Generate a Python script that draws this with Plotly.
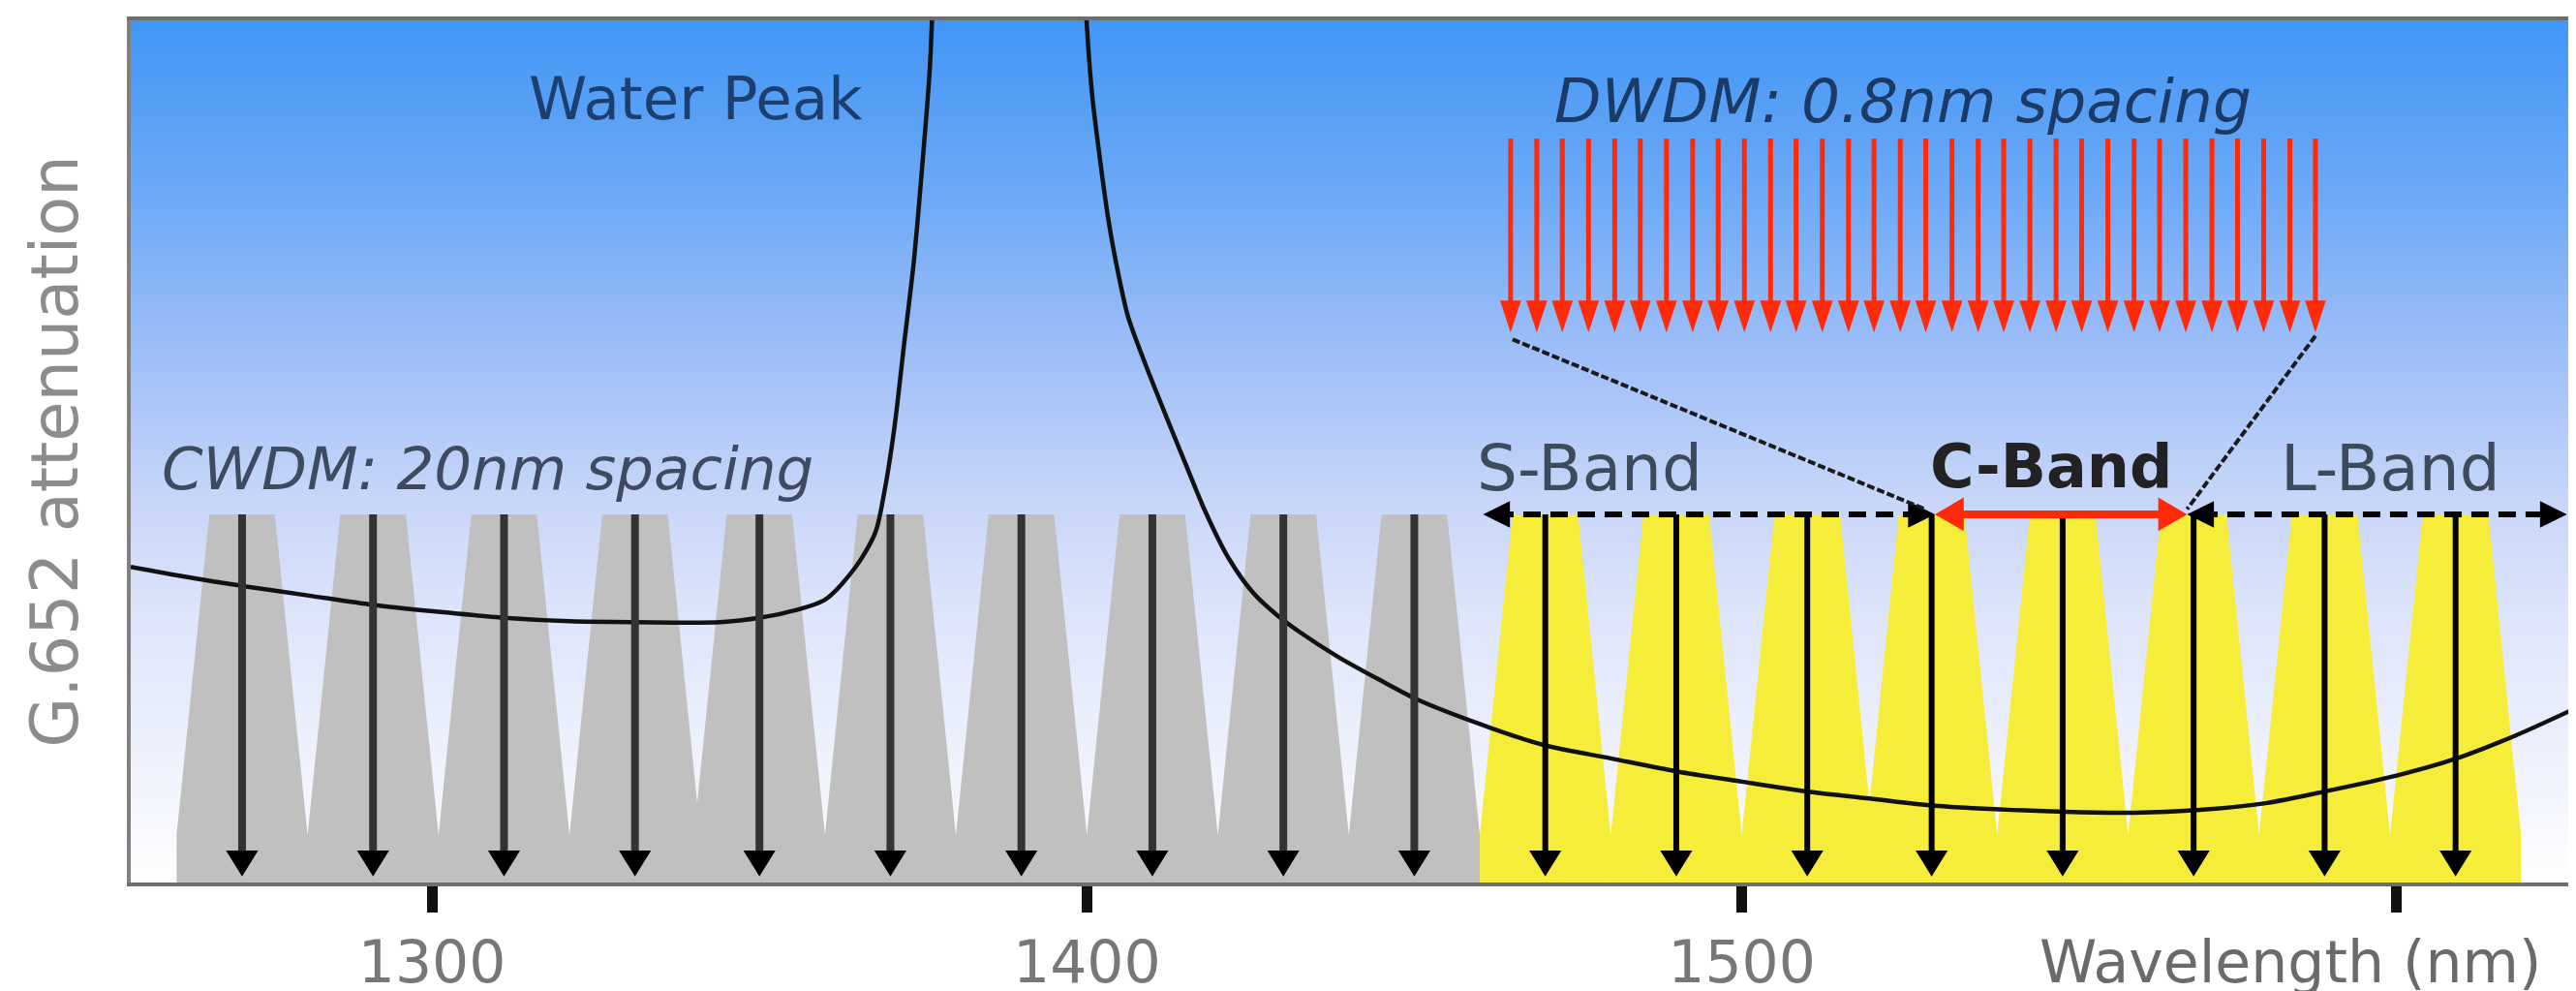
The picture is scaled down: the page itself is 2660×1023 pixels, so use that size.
import plotly.graph_objects as go

# ------------------------------------------------------------------ data
# G.652 attenuation curve (arbitrary units)
curve_left_nm = [1254, 1262, 1271, 1281, 1291, 1301, 1311, 1321, 1331, 1344, 1350,
                 1354, 1360, 1364.7, 1367.7, 1369.1, 1370.6, 1372.1, 1373.6, 1375.0,
                 1376.0, 1376.5]
curve_left_att = [36.6, 35.5, 34.4, 33.3, 32.2, 31.4, 30.7, 30.3, 30.2, 30.2, 30.7,
                  31.3, 32.8, 36.6, 40.6, 45.4, 52.7, 62.5, 72.2, 84.4,
                  94.2, 103]
curve_right_nm = [1399.8, 1400.0, 1400.8, 1402.0, 1403.3, 1404.8, 1406.3, 1409.2,
                  1412.2, 1415.1, 1418.1, 1421.5, 1425.5, 1428.9, 1432.4, 1438.3,
                  1444.7, 1450.5, 1461.4, 1470, 1480, 1490, 1500, 1509.6, 1520,
                  1529.5, 1549.4, 1560, 1569.5, 1580, 1589.3, 1600, 1608.8, 1618, 1627]
curve_right_att = [103, 99.4, 91.4, 83.9, 76.8, 70.6, 65.6, 59.6,
                   53.9, 48.5, 43.0, 37.8, 33.5, 31.1, 29.1, 26.2,
                   23.5, 21.2, 18.0, 15.9, 14.4, 12.9, 11.7, 10.6, 9.7,
                   8.9, 8.2, 8.1, 8.4, 9.2, 10.6, 12.4, 14.3, 17.0, 20.1]

# CWDM channels (nm) – grey part and yellow (S/C/L) part
cwdm_grey_nm = [1271, 1291, 1311, 1331, 1350, 1370, 1390, 1410, 1430, 1450]
cwdm_yellow_nm = [1470, 1490, 1510, 1529, 1549, 1569, 1589, 1609]

# magnified DWDM comb (positions on the drawing)
dwdm_pos_nm = [1464.7, 1468.7, 1472.6, 1476.6, 1480.6, 1484.5, 1488.5, 1492.5,
               1496.4, 1500.4, 1504.4, 1508.3, 1512.3, 1516.3, 1520.2, 1524.2,
               1528.1, 1532.1, 1536.1, 1540.0, 1544.0, 1548.0, 1551.9, 1555.9,
               1559.9, 1563.8, 1567.8, 1571.8, 1575.7, 1579.7, 1583.7, 1587.6]

# band limits (nm)
s_band = [1460.5, 1529.5]
c_band = [1529.5, 1568.0]
l_band = [1568.0, 1626.0]

x_tick_vals = [1300, 1400, 1500, 1600]
x_tick_text = ["1300", "1400", "1500", ""]

# ------------------------------------------------------------------ style constants
X_RANGE = [1254, 1626.5]
Y_RANGE = [0, 100]
FONT = "DejaVu Sans"
CH_TOP = 42.7          # top of channel trapezoids / arrow start
CH_JOIN = 5.5          # level where neighbouring channels touch
CH_HALF_TOP = 5.0
CH_HALF_BOTTOM = 10.0
ARROW_TIP = 0.7
DW_TOP, DW_TIP = 86.3, 63.8
BAND_Y = 42.7

fig = go.Figure()

# background gradient
fig.add_trace(go.Scatter(
    x=[X_RANGE[0] - 5, X_RANGE[1] + 5, X_RANGE[1] + 5, X_RANGE[0] - 5, X_RANGE[0] - 5],
    y=[Y_RANGE[0], Y_RANGE[0], Y_RANGE[1], Y_RANGE[1], Y_RANGE[0]],
    mode="lines", line=dict(width=0), fill="toself",
    fillgradient=dict(type="vertical", colorscale=[
        [0.0, "#ffffff"], [0.1, "#f3f5fd"], [0.3, "#dfe6fb"], [0.45, "#c6d5f9"],
        [0.6, "#a2c0f8"], [0.8, "#6ca9f7"], [1.0, "#4196f6"]]),
    hoverinfo="skip", showlegend=False))


def trapezoids(centres):
    xs, ys = [], []
    for c in centres:
        xs += [c - CH_HALF_TOP, c + CH_HALF_TOP, c + CH_HALF_BOTTOM, c + CH_HALF_BOTTOM,
               c - CH_HALF_BOTTOM, c - CH_HALF_BOTTOM, c - CH_HALF_TOP, None]
        ys += [CH_TOP, CH_TOP, CH_JOIN, 0, 0, CH_JOIN, CH_TOP, None]
    return xs, ys


for centres, col in [(cwdm_grey_nm, "#c0c0c0"), (cwdm_yellow_nm, "#f5ed3a")]:
    tx, ty = trapezoids(centres)
    fig.add_trace(go.Scatter(x=tx, y=ty, mode="lines", line=dict(width=0),
                             fill="toself", fillcolor=col, hoverinfo="skip",
                             showlegend=False))

# attenuation curve
fig.add_trace(go.Scatter(
    x=curve_left_nm + [None] + curve_right_nm,
    y=curve_left_att + [None] + curve_right_att,
    mode="lines", line=dict(color="#111111", width=4.5, shape="spline", smoothing=0.8),
    connectgaps=False, hoverinfo="skip", showlegend=False))


def down_arrows(xs, y_top, y_tip, head_w, head_l):
    sx, sy, hx, hy = [], [], [], []
    for x in xs:
        sx += [x, x, None]
        sy += [y_top, y_tip + head_l * 0.5, None]
        hx += [x - head_w / 2, x + head_w / 2, x, x - head_w / 2, None]
        hy += [y_tip + head_l, y_tip + head_l, y_tip, y_tip + head_l, None]
    return sx, sy, hx, hy


def add_arrows(xs, y_top, y_tip, head_w, head_l, shaft_col, head_col, width):
    sx, sy, hx, hy = down_arrows(xs, y_top, y_tip, head_w, head_l)
    fig.add_trace(go.Scatter(x=sx, y=sy, mode="lines",
                             line=dict(color=shaft_col, width=width),
                             hoverinfo="skip", showlegend=False))
    fig.add_trace(go.Scatter(x=hx, y=hy, mode="lines", line=dict(width=0, color=head_col),
                             fill="toself", fillcolor=head_col,
                             hoverinfo="skip", showlegend=False))


add_arrows(cwdm_grey_nm, CH_TOP, ARROW_TIP, 4.9, 3.0, "#333333", "#000000", 8)
add_arrows(cwdm_yellow_nm, CH_TOP, ARROW_TIP, 4.9, 3.0, "#000000", "#000000", 6)
add_arrows(dwdm_pos_nm, DW_TOP, DW_TIP, 3.2, 3.7, "#ff2a0a", "#ff2a0a", 5)


def h_head(xt, y, direction, length, width):
    return ([xt - direction * length, xt, xt - direction * length, xt - direction * length, None],
            [y + width / 2, y, y - width / 2, y + width / 2, None])


# band arrows
dash_style = "18px,10px"
for (x0, x1), col, dash, w in [(s_band, "#000000", dash_style, 6),
                               (l_band, "#000000", dash_style, 6),
                               (c_band, "#ff2a0a", "solid", 8)]:
    fig.add_trace(go.Scatter(x=[x0 + 2, x1 - 2], y=[BAND_Y, BAND_Y], mode="lines",
                             line=dict(color=col, width=w, dash=dash),
                             hoverinfo="skip", showlegend=False))
    L, W = (4.4, 3.9) if col != "#000000" else (4.1, 3.1)
    ax1, ay1 = h_head(x0, BAND_Y, -1, L, W)
    ax2, ay2 = h_head(x1, BAND_Y, 1, L, W)
    fig.add_trace(go.Scatter(x=ax1 + ax2, y=ay1 + ay2, mode="lines",
                             line=dict(width=0, color=col), fill="toself", fillcolor=col,
                             hoverinfo="skip", showlegend=False))

# zoom lines from the DWDM comb to the C-band
fig.add_trace(go.Scatter(
    x=[dwdm_pos_nm[0] + 0.3, c_band[0] - 1.5, None, dwdm_pos_nm[-1], c_band[1]],
    y=[DW_TIP - 0.8, BAND_Y + 0.6, None, DW_TIP - 0.4, BAND_Y + 0.6],
    mode="lines", line=dict(color="#1a1a1a", width=4, dash="8px,3px"),
    hoverinfo="skip", showlegend=False))


# text labels
def label(text, x, y, size, color, xref="x", yref="y"):
    fig.add_annotation(x=x, y=y, xref=xref, yref=yref, text=text, showarrow=False,
                       font=dict(family=FONT, size=size, color=color),
                       xanchor="center", yanchor="middle")


label("Water Peak", 1340.3, 90.9, 61, "#1d3f6e")
label("<i>CWDM: 20nm spacing</i>", 1308.5, 48.0, 61, "#3e4a62")
label("<i>DWDM: 0.8nm spacing</i>", 1524.6, 90.6, 63, "#1b3a66")
label("S-Band", 1476.8, 48.0, 66, "#3d4a5c")
label("<b>C-Band</b>", 1547.3, 48.3, 62, "#222222")
label("L-Band", 1599.0, 48.0, 66, "#3d4a5c")
label("Wavelength (nm)", 1583.8, -0.092, 60, "#6a6a6a", yref="paper")

fig.update_layout(
    width=2660, height=1023,
    margin=dict(l=127, r=14, t=13, b=120),
    paper_bgcolor="white", plot_bgcolor="white",
    showlegend=False,
    xaxis=dict(range=X_RANGE, showgrid=False, zeroline=False,
               tickvals=x_tick_vals, ticktext=x_tick_text,
               ticks="outside", ticklen=27, tickwidth=11, tickcolor="#111111",
               showline=True, linewidth=4, linecolor="#6e6e6e", mirror=True,
               tickfont=dict(family=FONT, size=60, color="#777777"),
               automargin=False),
    yaxis=dict(range=Y_RANGE, showgrid=False, zeroline=False, showticklabels=False,
               ticks="", showline=True, linewidth=4, linecolor="#808080", mirror=True,
               title=dict(text="G.652 attenuation", standoff=30,
                          font=dict(family=FONT, size=67, color="#8c8c8c")),
               automargin=False),
)

fig.write_html("out.html")
